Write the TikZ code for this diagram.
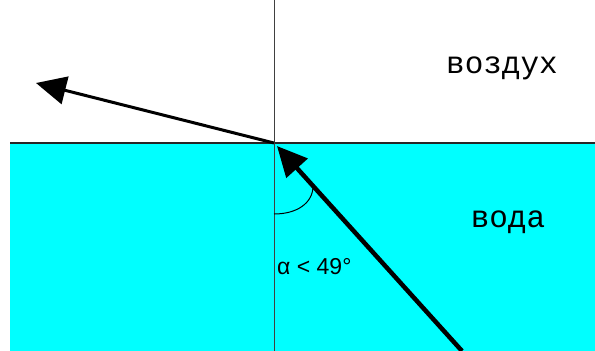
\documentclass[tikz,border=0pt]{standalone}
\usepackage{fontspec}
\setmainfont{Liberation Sans}
\newfontfamily\courfnt{Liberation Mono}
\usetikzlibrary{arrows.meta}
\definecolor{agua}{HTML}{00FFFF}

\begin{document}
\begin{tikzpicture}[x=1pt, y=-1pt, >={Triangle[length=30pt,width=28pt]}]
  \useasboundingbox (0,0) rectangle (595,351);
  % --- agua y superficie ---
  \fill[agua] (10,143) rectangle (595,351);
  \coordinate (O) at (274,143);
  \coordinate (W) at (10,143);
  \coordinate (E) at (595,143);
  \coordinate (N) at (274,0);
  \coordinate (S) at (274,351);
  \draw[line width=1.5pt, black!85] (W) -- (E);
  \draw[line width=1pt, black!75] (N) -- (S);

  % --- rayos ---
  \coordinate (src) at (462,351);
  \coordinate (hit) at (277,146);
  \coordinate (out) at (36,83);
  \draw[->, line width=4.5pt] (src) -- (hit);
  \draw[->, line width=3pt] (O) -- (out);

  % --- angulo ---
  \draw[line width=1pt] (274,214) .. controls (297,214) and (313,203) .. (313,186);

  \node (aire) at (502,68) {\courfnt\fontsize{31}{34}\selectfont воздух};
  \node (agua) at (508,222) {\courfnt\fontsize{31}{34}\selectfont вода};
  \node[anchor=west, inner sep=0pt, font=\fontsize{23}{27}\selectfont] (alfa) at (277,267) {α < 49°};
\end{tikzpicture}
\end{document}
